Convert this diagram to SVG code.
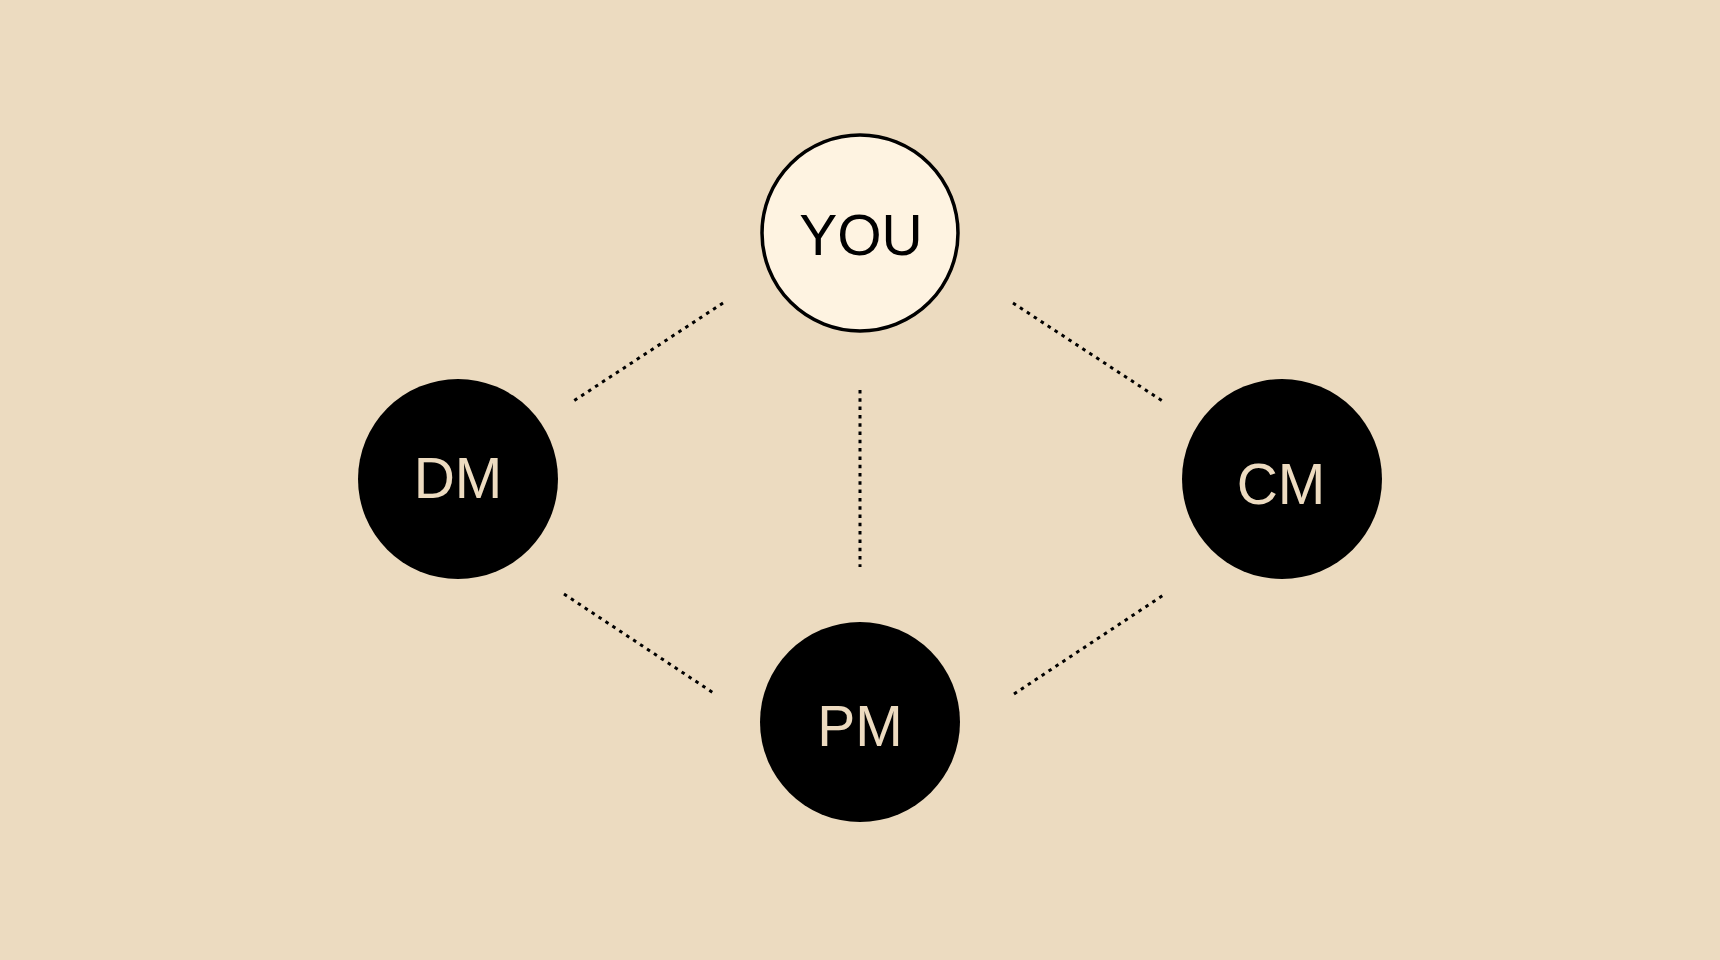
<svg xmlns="http://www.w3.org/2000/svg" width="1720" height="960" viewBox="0 0 1720 960">
  <style>
    .conn { stroke: #000000; stroke-width: 3; stroke-dasharray: 3.5 4.8; fill: none; }
    .dark { fill: #000000; }
    .lbl { font-family: "Liberation Sans", Arial, sans-serif; font-size: 57px; text-anchor: middle; }
    .lbl-light { fill: #EDDBC0; }
    .lbl-dark { fill: #000000; }
  </style>
  <rect x="0" y="0" width="1720" height="960" fill="#ECDBC0"/>
  <g id="connectors">
    <line class="conn" x1="723" y1="303" x2="572" y2="402"/>
    <line class="conn" x1="1013" y1="303" x2="1164" y2="402"/>
    <line class="conn" x1="860" y1="390" x2="860" y2="567"/>
    <line class="conn" x1="564" y1="594" x2="715" y2="694"/>
    <line class="conn" x1="1014" y1="694" x2="1165" y2="594"/>
  </g>
  <g id="node-you">
    <circle cx="860" cy="233" r="98" fill="#FEF3E1" stroke="#000000" stroke-width="3.5"/>
    <text class="lbl lbl-dark" x="861" y="255">YOU</text>
  </g>
  <g id="node-dm">
    <circle class="dark" cx="458" cy="479" r="100"/>
    <text class="lbl lbl-light" x="458" y="498">DM</text>
  </g>
  <g id="node-cm">
    <circle class="dark" cx="1282" cy="479" r="100"/>
    <text class="lbl lbl-light" x="1281" y="504">CM</text>
  </g>
  <g id="node-pm">
    <circle class="dark" cx="860" cy="722" r="100"/>
    <text class="lbl lbl-light" x="860" y="746">PM</text>
  </g>
</svg>
